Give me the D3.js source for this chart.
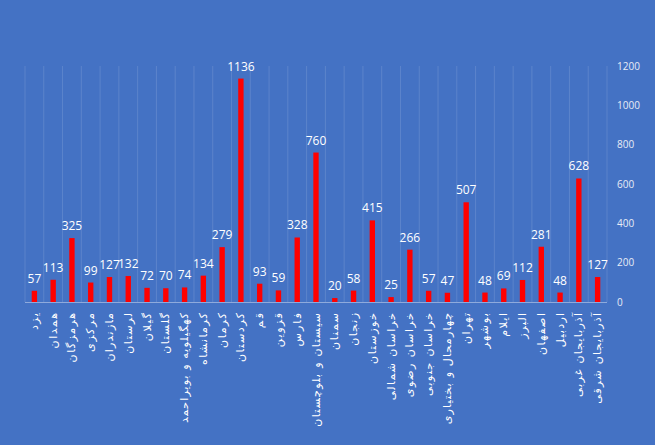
<!DOCTYPE html>
<html>
<head>
<meta charset="utf-8">
<script src="https://cdn.jsdelivr.net/npm/d3@7"></script>
<style>
  html, body { margin: 0; padding: 0; background: #4472C4; }
  svg { display: block; }
</style>
</head>
<body>
<svg id="chart" width="655" height="445"></svg>
<script>
const categories = [
  "یزد", "همدان", "هرمزگان", "مرکزی", "مازندران", "لرستان", "گیلان", "گلستان",
  "کهگیلویه و بویراحمد", "کرمانشاه", "کرمان", "کردستان", "قم", "قزوین", "فارس",
  "سیستان و بلوچستان", "سمنان", "زنجان", "خوزستان", "خراسان شمالی", "خراسان رضوی",
  "خراسان جنوبی", "چهارمحال و بختیاری", "تهران", "بوشهر", "ایلام", "البرز",
  "اصفهان", "اردبیل", "آذربایجان غربی", "آذربایجان شرقی"
];
const values = [
  57, 113, 325, 99, 127, 132, 72, 70,
  74, 134, 279, 1136, 93, 59, 328,
  760, 20, 58, 415, 25, 266,
  57, 47, 507, 48, 69, 112,
  281, 48, 628, 127
];
const yTicks = [0, 200, 400, 600, 800, 1000, 1200];

const svg = d3.select("#chart");
svg.append("rect").attr("width", 655).attr("height", 445).attr("fill", "#4472C4");

const x = d3.scaleBand().domain(categories).range([25, 607]).paddingInner(0).paddingOuter(0);
const y = d3.scaleLinear().domain([0, 1200]).range([302, 66]);

// vertical gridlines at category boundaries
const bounds = categories.map(c => x(c)).concat([x.range()[1]]);
svg.append("g").selectAll("line").data(bounds).join("line")
  .attr("x1", d => d).attr("x2", d => d)
  .attr("y1", y(1200)).attr("y2", y(0))
  .attr("stroke", "#ffffff").attr("stroke-opacity", 0.13).attr("stroke-width", 1);

// baseline
svg.append("line")
  .attr("x1", x.range()[0]).attr("x2", x.range()[1])
  .attr("y1", y(0) + 0.5).attr("y2", y(0) + 0.5)
  .attr("stroke", "#8FAADC").attr("stroke-width", 1);

// bars
const bw = x.bandwidth() / 3.5;
svg.append("g").selectAll("rect").data(values).join("rect")
  .attr("x", (d, i) => x(categories[i]) + x.bandwidth() / 2 - bw / 2)
  .attr("width", bw)
  .attr("y", d => y(d))
  .attr("height", d => y(0) - y(d))
  .attr("fill", "#FF0000");

// data labels
svg.append("g").selectAll("text").data(values).join("text")
  .attr("x", (d, i) => x(categories[i]) + x.bandwidth() / 2)
  .attr("y", d => y(d) - 8)
  .attr("text-anchor", "middle")
  .attr("fill", "#ffffff")
  .attr("font-family", "'Open Sans', Lato, sans-serif")
  .attr("font-size", 12)
  .text(d => d);

// right y axis
const yAxis = d3.axisRight(y).tickValues(yTicks).tickSize(0).tickPadding(0).tickFormat(d3.format("d"));
const ga = svg.append("g").attr("transform", "translate(617,0)").call(yAxis);
ga.select(".domain").remove();
ga.selectAll("text")
  .attr("fill", "#E8ECF6")
  .attr("font-family", "'Open Sans', Lato, sans-serif")
  .attr("font-size", 10);

// category labels (rotated)
const cl = svg.append("g").selectAll("text").data(categories).join("text")
  .attr("transform", d => `translate(${x(d) + x.bandwidth() / 2},313) rotate(-90)`)
  .attr("text-anchor", "end")
  .attr("dominant-baseline", "central")
  .attr("fill", "#ffffff")
  .attr("font-family", "'DejaVu Sans', sans-serif")
  .attr("font-size", 11)
  .text(d => d);
cl.each(function () {
  const len = this.getComputedTextLength();
  d3.select(this).attr("textLength", len * 1.22).attr("lengthAdjust", "spacing");
});
</script>
</body>
</html>
